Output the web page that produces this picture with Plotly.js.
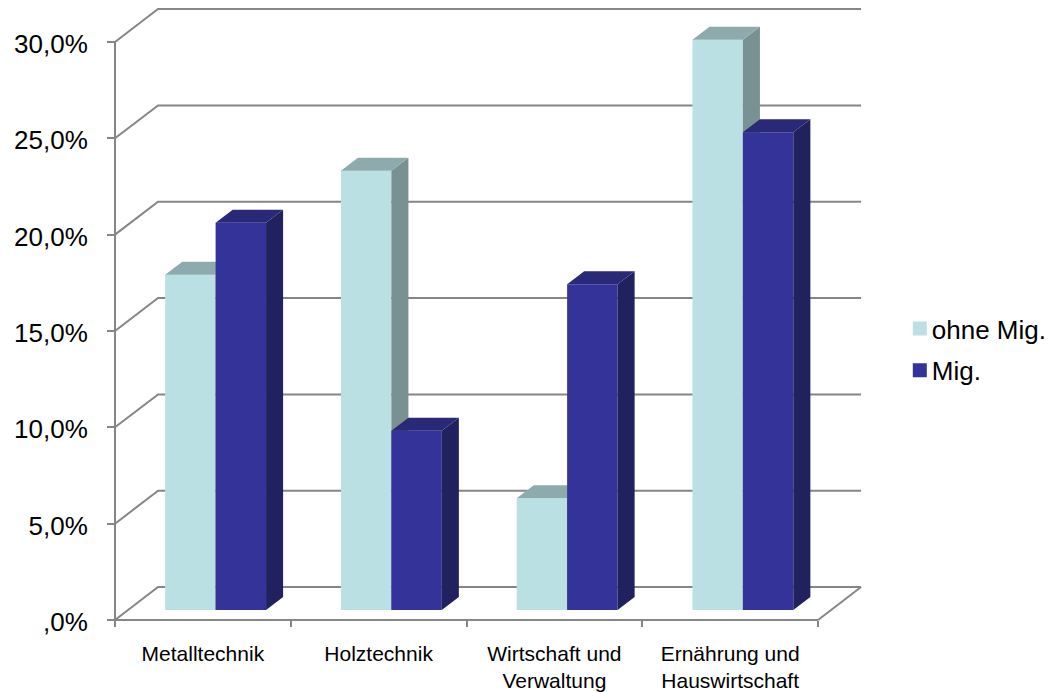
<!DOCTYPE html>
<html>
<head>
<meta charset="utf-8">
<script src="https://cdn.plot.ly/plotly-3.0.1.min.js"></script>
<style>html,body{margin:0;padding:0;background:#fff;overflow:hidden}</style>
</head>
<body>
<div id="chart" style="width:1051px;height:692px"></div>
<script>
// Share of apprentices per occupational field, with and without migration background
const categories = ['Metalltechnik', 'Holztechnik', 'Wirtschaft und<br>Verwaltung', 'Ernährung und<br>Hauswirtschaft'];
const ohneMig = [17.4, 22.8, 5.8, 29.6];
const mig = [20.1, 9.3, 16.9, 24.8];
const tickValues = [0, 5, 10, 15, 20, 25, 30];
const tickLabels = [',0%', '5,0%', '10,0%', '15,0%', '20,0%', '25,0%', '30,0%'];

// Pseudo-3D geometry, in axis units
const wallDx = 0.245, wallDy = 1.71;   // depth of the chart box
const barDx = 0.097, barDy = 0.675;    // depth of a bar
const barBase = 0.52;                  // front of the bars sits slightly behind the axis
const barWidth = 0.287;
const offsets = {ohne: -0.2145, mig: 0.0725};

// The axes span the box depth too, so the back wall stays inside the plot area
const xRange = [-0.5284, 3.773];
const yRange = [-0.2595, 31.92];

const GRID = '#868686';
const FONT = 'Liberation Sans, Arial, sans-serif';

// Wall and floor lines: front edge -> back edge -> along the back wall
const gridX = [], gridY = [];
tickValues.forEach(v => {
  gridX.push(-0.5, -0.5 + wallDx, 3.5 + wallDx, null);
  gridY.push(v, v + wallDy, v + wallDy, null);
});
gridX.push(3.5, 3.5 + wallDx, null);
gridY.push(0, wallDy, null);

// Front edges of the box: value axis and category axis
gridX.push(-0.5, -0.5, 3.5);
gridY.push(30, 0, 0);

// Side and top faces of one bar series, derived from its values
function faces(values, off) {
  const side = {x: [], y: []}, top = {x: [], y: []};
  values.forEach((v, i) => {
    const l = i + off, r = l + barWidth, t = v + barBase;
    side.x.push(r, r + barDx, r + barDx, r, r, null);
    side.y.push(barBase, barBase + barDy, t + barDy, t, barBase, null);
    top.x.push(l, l + barDx, r + barDx, r, l, null);
    top.y.push(t, t + barDy, t + barDy, t, t, null);
  });
  return {side, top};
}

function series(name, values, off, colors, xa, ya) {
  const f = faces(values, off);
  const poly = (d, color) => ({
    type: 'scatter', mode: 'lines', x: d.x, y: d.y, xaxis: xa, yaxis: ya,
    fill: 'toself', fillcolor: color, line: {width: 0, color: color},
    hoverinfo: 'skip', showlegend: false
  });
  return [
    {type: 'bar', name: name, x: values.map((_, i) => i), y: values, base: barBase,
     width: barWidth, offset: off, xaxis: xa, yaxis: ya,
     marker: {color: colors.front, line: {width: 0}}, showlegend: false},
    poly(f.side, colors.side),
    poly(f.top, colors.top)
  ];
}

const legendEntry = (name, color) => ({
  type: 'scatter', mode: 'markers', name: name, legendgroup: name,
  x: [null], y: [null], xaxis: 'x2', yaxis: 'y2',
  marker: {symbol: 'square', size: 14, color: color}
});

const lightColors = {front: '#BAE0E4', side: '#7A9194', top: '#8FAAAD'};
const darkColors = {front: '#333399', side: '#21215F', top: '#292978'};

const data = [
  // carries the category labels of the main axis
  {type: 'scatter', mode: 'none', x: categories, y: categories.map(() => 0),
   showlegend: false, hoverinfo: 'skip'},
  {type: 'scatter', mode: 'lines', x: gridX, y: gridY, xaxis: 'x2', yaxis: 'y2',
   line: {color: GRID, width: 2}, hoverinfo: 'skip', showlegend: false},
  ...series('ohne Mig.', ohneMig, offsets.ohne, lightColors, 'x3', 'y3'),
  ...series('Mig.', mig, offsets.mig, darkColors, 'x4', 'y4'),
  legendEntry('ohne Mig.', lightColors.front),
  legendEntry('Mig.', darkColors.front)
];

const hiddenX = () => ({overlaying: 'x', range: xRange, visible: false, type: 'linear', fixedrange: true});
const hiddenY = () => ({overlaying: 'y', range: yRange, visible: false, type: 'linear', fixedrange: true});

const layout = {
  width: 1051, height: 692,
  margin: {l: 110, r: 185, t: 5, b: 67, autoexpand: false},
  paper_bgcolor: '#fff', plot_bgcolor: 'rgba(0,0,0,0)',
  font: {family: FONT, color: '#000'},
  barmode: 'overlay',
  xaxis: {
    type: 'category', categoryorder: 'array', categoryarray: categories,
    range: xRange, tickson: 'boundaries', anchor: 'free', position: 0.00806,
    showgrid: false, zeroline: false, showline: false,
    ticks: 'outside', ticklen: 6, tickwidth: 2, tickcolor: GRID,
    tickfont: {size: 21, family: FONT, color: '#000'}, ticklabelstandoff: 19, tickangle: 0,
    fixedrange: true
  },
  yaxis: {
    range: yRange, tickvals: tickValues, ticktext: tickLabels,
    anchor: 'free', position: 0.00661,
    showgrid: false, zeroline: false, showline: false,
    ticks: 'outside', ticklen: 8, tickwidth: 2, tickcolor: GRID,
    tickfont: {size: 26, family: FONT, color: '#000'}, ticklabelstandoff: 14, ticklabelshift: 2,
    fixedrange: true
  },
  xaxis2: hiddenX(), yaxis2: hiddenY(),
  xaxis3: hiddenX(), yaxis3: hiddenY(),
  xaxis4: hiddenX(), yaxis4: hiddenY(),
  legend: {
    x: 1.0447, y: 0.516, xanchor: 'left', yanchor: 'top',
    font: {size: 26, family: FONT, color: '#000'},
    traceorder: 'grouped', tracegroupgap: 5, itemclick: false, itemdoubleclick: false,
    bgcolor: 'rgba(0,0,0,0)'
  },
  showlegend: true
};

Plotly.newPlot('chart', data, layout, {displayModeBar: false, staticPlot: true}).then(() => {
  // tighten the gap between legend swatch and label
  document.querySelectorAll('.legendtext').forEach(t => t.setAttribute('x', 32));
});
</script>
</body>
</html>
